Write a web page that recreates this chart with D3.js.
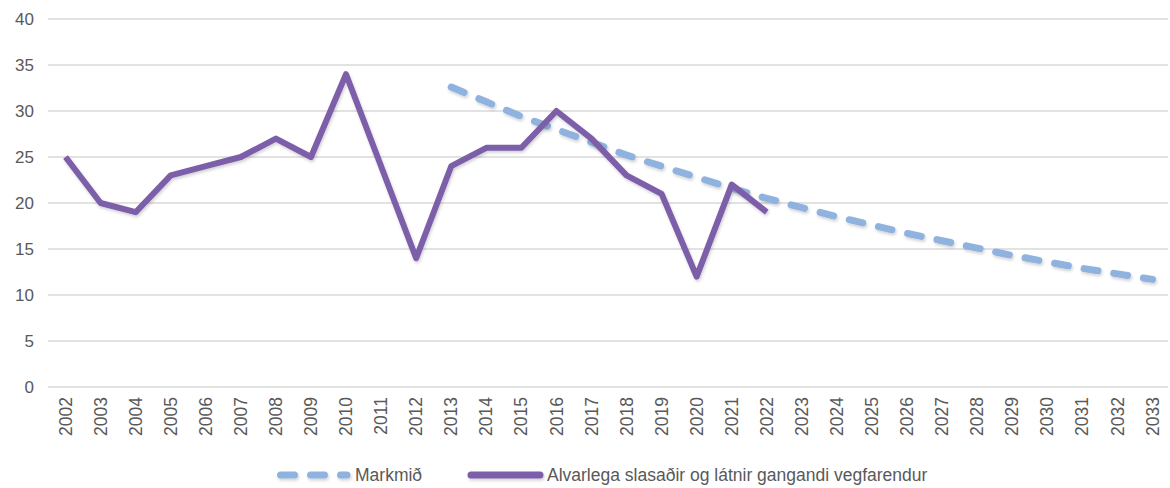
<!DOCTYPE html>
<html>
<head>
<meta charset="utf-8">
<script src="https://cdn.jsdelivr.net/npm/d3@7"></script>
<style>
  html, body { margin: 0; padding: 0; background: #fff; }
  svg { display: block; }
  text { font-family: "Liberation Sans", Arial, sans-serif; fill: #595959; }
</style>
</head>
<body>
<svg id="chart" width="1170" height="488"></svg>
<script>
// Years shown on the horizontal axis
const years = d3.range(2002, 2034).map(String);

// Seriously injured and killed pedestrians, 2002–2022
const actualYears = ["2002","2003","2004","2005","2006","2007","2008","2009","2010","2011","2012",
                     "2013","2014","2015","2016","2017","2018","2019","2020","2021","2022"];
const actualValues = [25, 20, 19, 23, 24, 25, 27, 25, 34, 24, 14,
                      24, 26, 26, 30, 27, 23, 21, 12, 22, 19];

// Target path, 2013–2033
const targetYears = ["2013","2014","2015","2016","2017","2018","2019","2020","2021","2022","2023",
                     "2024","2025","2026","2027","2028","2029","2030","2031","2032","2033"];
const targetValues = [32.6, 31.0, 29.4, 28.0, 26.6, 25.2, 24.0, 22.8, 21.6, 20.5, 19.5,
                      18.5, 17.6, 16.7, 15.9, 15.1, 14.3, 13.6, 12.9, 12.3, 11.7];

const yTicks = [0, 5, 10, 15, 20, 25, 30, 35, 40];
const legendLabels = ["Markmið", "Alvarlega slasaðir og látnir gangandi vegfarendur"];

const colorTarget = "#8fb3de";
const colorActual = "#7b5ea8";

const svg = d3.select("#chart");
const plot = { left: 48, right: 1170, top: 19, bottom: 387 };

const x = d3.scaleBand().domain(years).range([plot.left, plot.right]);
const y = d3.scaleLinear().domain([0, 40]).range([plot.bottom, plot.top]);
const cx = d => x(d) + x.bandwidth() / 2;

// soft shadow under the lines (large user-space region so thin/flat shapes keep it)
const defs = svg.append("defs");
const f = defs.append("filter").attr("id", "shadow")
  .attr("filterUnits", "userSpaceOnUse")
  .attr("x", -200).attr("y", -600).attr("width", 1600).attr("height", 1700);
f.append("feDropShadow").attr("dx", 1).attr("dy", 2).attr("stdDeviation", 1.5)
  .attr("flood-color", "#000").attr("flood-opacity", 0.18);

// horizontal gridlines
svg.append("g")
  .selectAll("line")
  .data(yTicks)
  .join("line")
  .attr("x1", plot.left).attr("x2", plot.right - 2)
  .attr("y1", d => y(d)).attr("y2", d => y(d))
  .attr("stroke", "#d9d9d9").attr("stroke-width", 1.5);

// y axis labels
const yAxis = svg.append("g")
  .attr("transform", `translate(${plot.left - 14},0)`)
  .call(d3.axisLeft(y).tickValues(yTicks).tickSize(0).tickPadding(0));
yAxis.select(".domain").remove();
yAxis.selectAll("text")
  .attr("font-size", 17).attr("fill", "#595959")
  .style("font-family", "'Liberation Sans', Arial, sans-serif");

// x axis labels, vertical
const xAxis = svg.append("g")
  .attr("transform", `translate(0,${plot.bottom})`)
  .call(d3.axisBottom(x).tickSize(0).tickPadding(0));
xAxis.select(".domain").remove();
xAxis.selectAll("text")
  .attr("font-size", 17.5).attr("fill", "#595959")
  .style("font-family", "'Liberation Sans', Arial, sans-serif")
  .attr("text-anchor", "end")
  .attr("transform", "translate(0,10) rotate(-90)")
  .attr("x", 0).attr("y", 0).attr("dy", "0.35em");

const line = d3.line().x(d => cx(d[0])).y(d => y(d[1]));

// target line (dashed)
svg.append("path")
  .datum(d3.zip(targetYears, targetValues))
  .attr("d", line)
  .attr("fill", "none")
  .attr("stroke", colorTarget)
  .attr("stroke-width", 7)
  .attr("stroke-linecap", "round")
  .attr("stroke-dasharray", "14 16")
  .attr("filter", "url(#shadow)");

// actual values
svg.append("path")
  .datum(d3.zip(actualYears, actualValues))
  .attr("d", line)
  .attr("fill", "none")
  .attr("stroke", colorActual)
  .attr("stroke-width", 6)
  .attr("stroke-linejoin", "round")
  .attr("filter", "url(#shadow)");

// legend
const lg = svg.append("g").attr("transform", "translate(0,475)");
lg.append("line")
  .attr("x1", 280.5).attr("x2", 347).attr("y1", 0).attr("y2", 0)
  .attr("stroke", colorTarget).attr("stroke-width", 7)
  .attr("stroke-linecap", "round").attr("stroke-dasharray", "14 16")
  .attr("filter", "url(#shadow)");
lg.append("text")
  .attr("x", 355).attr("y", 0).attr("dy", "0.35em")
  .attr("font-size", 17.5)
  .text(legendLabels[0]);
lg.append("line")
  .attr("x1", 471).attr("x2", 540).attr("y1", 0).attr("y2", 0)
  .attr("stroke", colorActual).attr("stroke-width", 7)
  .attr("stroke-linecap", "round")
  .attr("filter", "url(#shadow)");
lg.append("text")
  .attr("x", 547).attr("y", 0).attr("dy", "0.35em")
  .attr("font-size", 17.5)
  .text(legendLabels[1]);
</script>
</body>
</html>
